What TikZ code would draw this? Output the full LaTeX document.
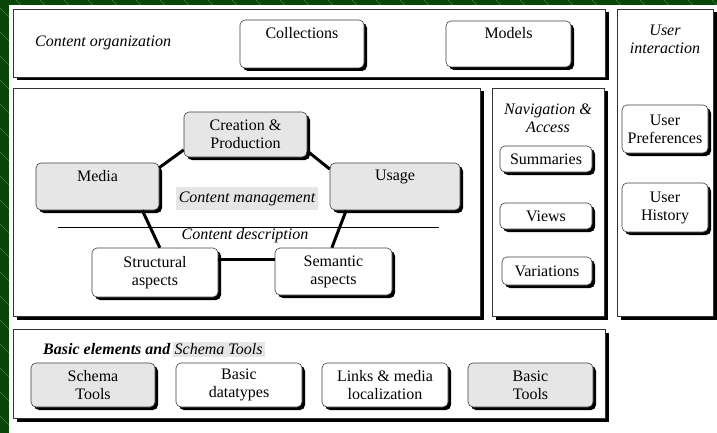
\documentclass[tikz,border=0pt]{standalone}
\usepackage{fontspec}
\setmainfont{LiberationSerif}[
  Extension=.ttf,
  UprightFont=*-Regular,
  ItalicFont=*-Italic,
  BoldFont=*-Bold,
  BoldItalicFont=*-BoldItalic]
\usetikzlibrary{positioning}

\definecolor{bggreen}{RGB}{8,70,8}
\definecolor{hatchgreen}{RGB}{70,125,70}
\definecolor{boxgray}{RGB}{230,230,230}
\newcommand{\diagfont}{\fontsize{16}{18}\selectfont}

\tikzset{
  panel/.style={draw=black!80, fill=white, line width=0.6pt,
    preaction={fill=black, transform canvas={shift={(3.5pt,-3.5pt)}}}},
  item/.style={draw=black!75, fill=white, rounded corners=5pt, line width=0.6pt,
    preaction={fill=black, transform canvas={shift={(3pt,-3pt)}}},
    align=center, inner sep=0pt},
  grayitem/.style={item, fill=boxgray},
  toptext/.style={text depth=22pt},
  title/.style={font=\diagfont\itshape, align=center, inner sep=0pt},
  link/.style={line width=3pt},
}

\begin{document}
\begin{tikzpicture}[x=1pt, y=-1pt, font=\diagfont]
\useasboundingbox (0,0) rectangle (717,433);
% green frame
\begin{scope}
  \clip (0,0) rectangle (717,433);
  \fill[bggreen] (0,0) rectangle (717,433);
  \foreach \i in {-440,-416,...,720}
    \draw[hatchgreen, line width=0.5pt] (\i,0) -- ++(440,440);
\end{scope}
\fill[white] (9,5) rectangle (717,433);

% panels
\node[panel, minimum width=592pt, minimum height=68pt] (orgpanel) at (309,43) {};
\node[panel, minimum width=96pt, minimum height=307pt] (userpanel) at (665,162.5) {};
\node[panel, minimum width=467pt, minimum height=228pt] (mainpanel) at (246.5,202) {};
\node[panel, minimum width=112pt, minimum height=228pt] (navpanel) at (548,202) {};
\node[panel, minimum width=592pt, minimum height=89pt] (basepanel) at (309,373.5) {};

% content organization
\node[title, anchor=west] (orgtitle) at (35,43) {Content organization};
\node[item, toptext, minimum width=124pt, minimum height=48pt] (coll) at (302,44) {Collections};
\node[item, toptext, minimum width=125pt, minimum height=46pt] (models) at (508.5,44) {Models};

% user interaction
\node[title] (usertitle) at (665,39) {User\\interaction};
\node[item, minimum width=86pt, minimum height=48pt] (prefs) at (665,129) {User\\Preferences};
\node[item, minimum width=86pt, minimum height=49pt] (hist) at (665,207.5) {User\\History};

% navigation
\node[title] (navtitle) at (548,118) {Navigation \&\\Access};
\node[item, minimum width=92pt, minimum height=26pt] (summ) at (546,159) {Summaries};
\node[item, minimum width=92pt, minimum height=26pt] (views) at (546,216) {Views};
\node[item, minimum width=90pt, minimum height=28pt] (vari) at (547,271) {Variations};

% content management / description
\node[grayitem, minimum width=123pt, minimum height=45pt] (creat) at (245.5,134.5) {Creation \&\\Production};
\node[grayitem, toptext, minimum width=123pt, minimum height=47pt] (media) at (97.5,186.5) {Media};
\node[grayitem, toptext, minimum width=130pt, minimum height=47pt] (usage) at (395,186.5) {Usage};
\node[title, fill=boxgray, minimum width=142pt, minimum height=23pt] (cman) at (247,198.5) {Content management};
\coordinate (sepl) at (58,227);
\coordinate (sepr) at (439,227);
\draw[line width=0.6pt] (sepl) -- (sepr);
\node[title] (cdesc) at (245,236) {Content description};
\node[item, minimum width=126pt, minimum height=49pt] (struct) at (155,272.5) {Structural\\aspects};
\node[item, minimum width=117pt, minimum height=47pt] (sem) at (333.5,271.5) {Semantic\\aspects};

\draw[link] (media.17) -- (creat.194);
\draw[link] (creat.-15) -- (usage.165);
\draw[link] (media.-28) -- (struct.79);
\draw[link] (usage.206) -- (sem.94);
\draw[link] (struct.12) -- (struct.12 -| sem.west);

% basic elements
\node[title, anchor=west, font=\diagfont\itshape\bfseries] (betitle) at (43,349.5) {Basic elements and};
\node[title, fill=boxgray, minimum height=15pt, inner xsep=2pt, right=2pt of betitle] (stitle) {Schema Tools};
\node[grayitem, minimum width=124pt, minimum height=44pt] (schema) at (93,385) {Schema\\Tools};
\node[item, minimum width=126pt, minimum height=44pt] (datat) at (239,385) {Basic\\datatypes};
\node[item, minimum width=126pt, minimum height=44pt] (links) at (385,385) {Links \& media\\localization};
\node[grayitem, minimum width=125pt, minimum height=44pt] (btools) at (530.5,385) {Basic\\Tools};
\end{tikzpicture}
\end{document}
